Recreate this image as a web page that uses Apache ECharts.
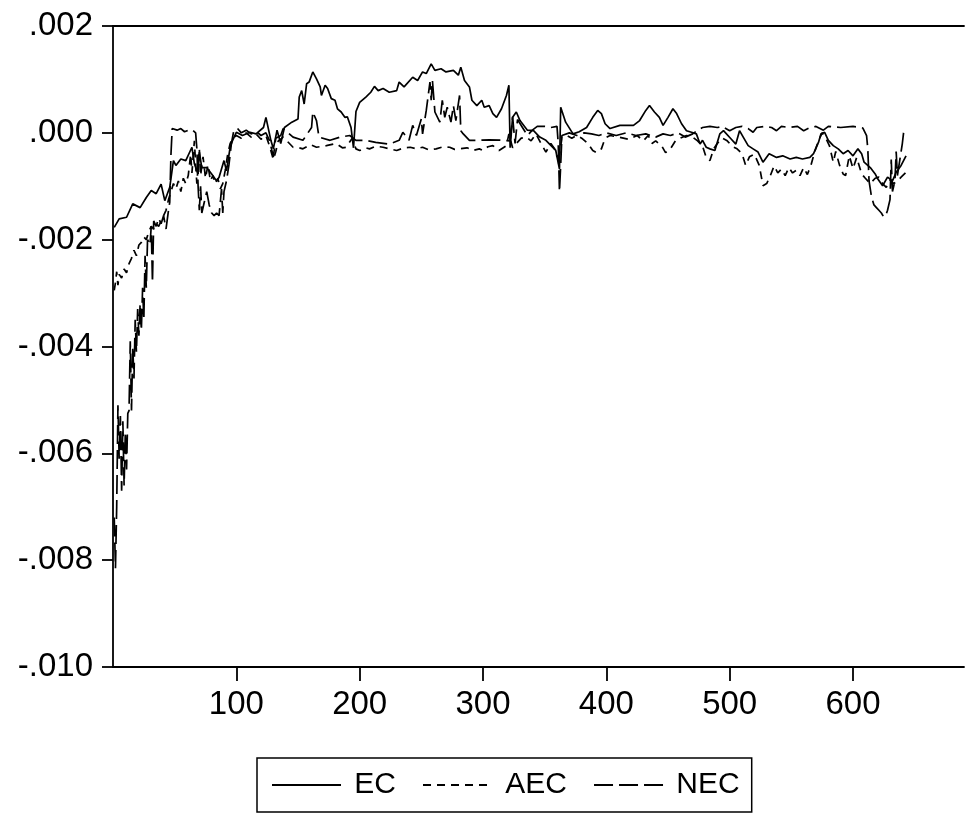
<!DOCTYPE html>
<html>
<head>
<meta charset="utf-8">
<script src="https://cdn.jsdelivr.net/npm/echarts@6/dist/echarts.min.js"></script>
<style>
html,body{margin:0;padding:0;background:#fff;}
#chart{width:965px;height:817px;}
</style>
</head>
<body>
<div id="chart"></div>
<script>
// ---- data (observation index, value) ----
var ecX = [1,5,11,16,22,27,31,35,39,42,46,49,51,55,59,64,66,69,70,72,76,80,84,86,90,92,95,97,100,105,111,116,122,124,128,130,133,136,139,145,150,151,153,155,157,159,162,165,168,169,172,174,177,180,182,185,188,190,193,195,197,200,205,209,212,215,219,224,230,232,236,243,247,251,254,258,261,266,270,276,280,282,285,289,291,295,299,301,305,308,311,315,319,321,322,324,327,330,336,341,346,351,354,359,362,363,367,373,378,384,389,393,396,399,403,411,422,427,432,435,439,443,446,450,454,457,461,465,469,473,476,478,481,484,488,492,495,501,505,508,511,515,519,523,527,532,538,543,549,554,559,565,568,572,574,577,580,584,588,592,596,600,604,607,609,614,618,620,624,628,632,635,639,643];
var ecY = [-1.77e-3,-1.61e-3,-1.58e-3,-1.33e-3,-1.40e-3,-1.21e-3,-1.08e-3,-1.14e-3,-0.96e-3,-1.27e-3,-1.02e-3,-0.52e-3,-0.61e-3,-0.49e-3,-0.52e-3,-0.27e-3,-0.58e-3,-0.77e-3,-0.36e-3,-0.65e-3,-0.65e-3,-0.77e-3,-0.90e-3,-0.83e-3,-0.52e-3,-0.71e-3,-0.27e-3,-0.14e-3,0.01e-3,-0.05e-3,0.01e-3,-0.02e-3,0.10e-3,0.29e-3,-0.14e-3,-0.30e-3,0.05e-3,-0.20e-3,0.10e-3,0.20e-3,0.26e-3,0.67e-3,0.79e-3,0.54e-3,0.92e-3,0.95e-3,1.14e-3,1.01e-3,0.86e-3,0.70e-3,0.89e-3,0.83e-3,0.64e-3,0.61e-3,0.45e-3,0.39e-3,0.29e-3,0.30e-3,0.10e-3,-0.28e-3,0.40e-3,0.57e-3,0.67e-3,0.76e-3,0.87e-3,0.79e-3,0.83e-3,0.76e-3,0.79e-3,0.95e-3,0.86e-3,1.04e-3,0.98e-3,1.14e-3,1.11e-3,1.29e-3,1.17e-3,1.20e-3,1.14e-3,1.17e-3,1.08e-3,1.23e-3,0.98e-3,0.86e-3,0.61e-3,0.51e-3,0.61e-3,0.48e-3,0.51e-3,0.36e-3,0.29e-3,0.45e-3,0.70e-3,0.89e-3,-0.28e-3,0.29e-3,0.39e-3,0.23e-3,0.05e-3,0.04e-3,-0.08e-3,-0.14e-3,-0.21e-3,-0.33e-3,-0.68e-3,0.48e-3,0.20e-3,-0.02e-3,0.02e-3,0.10e-3,0.29e-3,0.42e-3,0.36e-3,0.17e-3,0.08e-3,0.14e-3,0.14e-3,0.23e-3,0.42e-3,0.51e-3,0.39e-3,0.29e-3,0.14e-3,0.29e-3,0.45e-3,0.36e-3,0.17e-3,0.04e-3,0.01e-3,-0.02e-3,-0.21e-3,-0.14e-3,-0.27e-3,-0.30e-3,-0.33e-3,-0.02e-3,0.04e-3,-0.11e-3,-0.21e-3,0.04e-3,-0.08e-3,-0.24e-3,-0.30e-3,-0.36e-3,-0.55e-3,-0.39e-3,-0.46e-3,-0.43e-3,-0.49e-3,-0.46e-3,-0.49e-3,-0.46e-3,-0.39e-3,-0.18e-3,-0.02e-3,0.01e-3,-0.14e-3,-0.24e-3,-0.30e-3,-0.39e-3,-0.33e-3,-0.43e-3,-0.30e-3,-0.39e-3,-0.55e-3,-0.65e-3,-0.77e-3,-0.86e-3,-0.99e-3,-0.83e-3,-0.90e-3,-0.74e-3,-0.61e-3,-0.43e-3];

var aecX = [1,2,3,4,5,7,9,11,13,15,17,19,21,23,25,27,29,31,33,35,37,39,41,43,45,47,49,51,53,55,57,59,61,63,64,66,67,68,70,71,73,75,77,79,81,83,85,87,89,91,93,95,97,100,104,108,112,116,120,124,127,130,132,134,138,146,151,154,160,165,173,181,186,189,194,197,200,205,208,213,219,224,230,236,241,246,251,256,262,268,273,277,281,287,292,297,300,304,308,313,319,321,324,327,331,335,339,343,347,351,355,358,360,362,364,368,372,376,380,385,389,392,396,399,403,410,418,425,430,434,437,440,445,448,452,456,460,465,470,474,478,481,484,487,490,494,498,502,506,510,513,516,520,524,527,530,533,536,539,542,545,548,551,554,557,560,563,566,569,572,575,578,581,584,586,589,592,594,597,600,603,607,610,614,618,621,624,627,630,633,636,639,643];
var aecY = [-2.95e-3,-2.80e-3,-2.60e-3,-2.85e-3,-2.65e-3,-2.72e-3,-2.55e-3,-2.62e-3,-2.45e-3,-2.35e-3,-2.20e-3,-2.30e-3,-2.10e-3,-2.05e-3,-1.95e-3,-2.00e-3,-1.85e-3,-1.75e-3,-1.80e-3,-1.70e-3,-1.75e-3,-1.65e-3,-1.55e-3,-1.45e-3,-1.25e-3,-1.10e-3,-0.95e-3,-1.05e-3,-0.90e-3,-1.10e-3,-0.85e-3,-0.95e-3,-0.80e-3,-0.40e-3,-0.75e-3,-0.15e-3,-0.60e-3,-0.95e-3,-0.30e-3,-0.80e-3,-0.45e-3,-0.85e-3,-0.60e-3,-0.90e-3,-0.80e-3,-0.95e-3,-0.85e-3,-1.05e-3,-0.95e-3,-0.70e-3,-0.40e-3,-0.20e-3,-0.10e-3,-0.05e-3,-0.10e-3,0.00e-3,-0.08e-3,-0.02e-3,-0.12e-3,-0.05e-3,-0.25e-3,-0.50e-3,-0.35e-3,-0.15e-3,-0.08e-3,-0.27e-3,-0.28e-3,-0.30e-3,-0.22e-3,-0.27e-3,-0.24e-3,-0.20e-3,-0.28e-3,-0.27e-3,-0.10e-3,-0.30e-3,-0.33e-3,-0.28e-3,-0.30e-3,-0.25e-3,-0.27e-3,-0.30e-3,-0.33e-3,-0.28e-3,-0.27e-3,-0.30e-3,-0.27e-3,-0.32e-3,-0.30e-3,-0.26e-3,-0.27e-3,-0.31e-3,-0.30e-3,-0.28e-3,-0.33e-3,-0.30e-3,-0.33e-3,-0.26e-3,-0.24e-3,-0.33e-3,-0.24e-3,-0.02e-3,-0.28e-3,-0.20e-3,-0.10e-3,-0.08e-3,-0.15e-3,-0.02e-3,-0.20e-3,-0.36e-3,-0.20e-3,-0.30e-3,-0.45e-3,-0.40e-3,-0.10e-3,-0.05e-3,-0.10e-3,-0.05e-3,-0.10e-3,-0.20e-3,-0.33e-3,-0.37e-3,-0.30e-3,-0.10e-3,-0.05e-3,-0.08e-3,-0.12e-3,-0.05e-3,-0.15e-3,-0.05e-3,-0.20e-3,-0.15e-3,-0.25e-3,-0.37e-3,-0.30e-3,-0.15e-3,-0.10e-3,-0.05e-3,-0.08e-3,-0.15e-3,-0.25e-3,-0.46e-3,-0.52e-3,-0.30e-3,-0.20e-3,-0.10e-3,-0.15e-3,-0.25e-3,-0.30e-3,-0.39e-3,-0.61e-3,-0.45e-3,-0.40e-3,-0.61e-3,-0.99e-3,-0.95e-3,-0.80e-3,-0.62e-3,-0.75e-3,-0.68e-3,-0.80e-3,-0.65e-3,-0.75e-3,-0.70e-3,-0.80e-3,-0.65e-3,-0.78e-3,-0.60e-3,-0.35e-3,-0.15e-3,0.00e-3,-0.10e-3,-0.25e-3,-0.55e-3,-0.35e-3,-0.60e-3,-0.77e-3,-0.80e-3,-0.43e-3,-0.67e-3,-0.46e-3,-0.77e-3,-0.85e-3,-0.95e-3,-0.85e-3,-0.83e-3,-0.95e-3,-1.02e-3,-0.88e-3,-0.95e-3,-0.90e-3,-0.83e-3,-0.74e-3];

var necX = [1,2,3,4,5,6,7,8,9,10,11,12,13,14,15,16,17,18,19,20,21,22,23,24,25,26,27,28,30,31,32,33,35,37,39,41,43,45,46,47,48,52,55,58,61,64,67,68,69,70,71,72,74,76,78,80,82,84,86,88,89,90,92,94,96,98,101,104,108,112,116,120,124,127,130,132,136,138,146,154,161,162,165,167,176,184,192,197,205,213,224,232,235,240,243,246,250,251,254,257,258,259,261,265,267,269,271,274,276,278,281,282,284,289,297,305,316,322,324,326,328,332,336,340,344,350,355,360,361,362,363,364,370,376,382,388,394,400,408,416,424,432,440,446,452,458,464,470,474,478,484,490,494,500,505,510,515,519,522,528,534,538,542,548,555,560,565,570,576,580,590,600,608,611,612,613,615,617,619,621,623,625,627,628,630,631,632,634,635,636,638,640,641,643];
var necY = [-7.20e-3,-8.15e-3,-7.00e-3,-5.10e-3,-6.10e-3,-5.30e-3,-6.70e-3,-5.40e-3,-6.60e-3,-5.60e-3,-6.30e-3,-5.25e-3,-5.20e-3,-3.90e-3,-5.20e-3,-4.00e-3,-4.60e-3,-3.50e-3,-4.10e-3,-3.30e-3,-3.80e-3,-3.20e-3,-3.70e-3,-2.90e-3,-3.50e-3,-2.30e-3,-2.90e-3,-2.00e-3,-2.10e-3,-1.75e-3,-2.80e-3,-1.65e-3,-1.75e-3,-1.60e-3,-1.70e-3,-1.55e-3,-1.80e-3,-1.45e-3,-1.30e-3,-0.40e-3,0.08e-3,0.05e-3,0.08e-3,0.02e-3,0.05e-3,0.06e-3,0.00e-3,-0.30e-3,-1.00e-3,-1.45e-3,-1.00e-3,-1.50e-3,-1.30e-3,-1.10e-3,-1.35e-3,-1.50e-3,-1.55e-3,-1.50e-3,-1.55e-3,-1.05e-3,-1.50e-3,-1.10e-3,-0.90e-3,-0.60e-3,-0.20e-3,0.05e-3,0.08e-3,0.00e-3,0.05e-3,-0.02e-3,0.03e-3,-0.05e-3,0.00e-3,-0.15e-3,-0.45e-3,-0.10e-3,-0.05e-3,0.08e-3,-0.08e-3,-0.14e-3,0.10e-3,0.39e-3,0.23e-3,-0.08e-3,-0.14e-3,-0.08e-3,-0.05e-3,-0.14e-3,-0.14e-3,-0.18e-3,-0.21e-3,-0.14e-3,0.01e-3,-0.14e-3,0.14e-3,-0.05e-3,0.26e-3,-0.02e-3,0.42e-3,0.95e-3,0.61e-3,0.98e-3,0.39e-3,0.20e-3,0.61e-3,0.29e-3,0.48e-3,0.20e-3,0.51e-3,0.23e-3,0.70e-3,0.04e-3,-0.02e-3,-0.14e-3,-0.14e-3,-0.13e-3,-0.14e-3,-0.15e-3,0.30e-3,-0.20e-3,0.25e-3,0.10e-3,-0.05e-3,0.05e-3,0.12e-3,0.12e-3,0.10e-3,0.12e-3,-0.20e-3,-1.10e-3,-0.60e-3,-0.05e-3,0.00e-3,-0.05e-3,0.00e-3,-0.02e-3,-0.05e-3,0.00e-3,-0.05e-3,0.00e-3,-0.05e-3,-0.02e-3,-0.08e-3,-0.02e-3,-0.05e-3,0.00e-3,-0.08e-3,-0.02e-3,0.05e-3,0.10e-3,0.12e-3,0.10e-3,0.12e-3,0.04e-3,0.10e-3,0.12e-3,0.08e-3,0.01e-3,0.10e-3,0.12e-3,0.10e-3,0.04e-3,0.12e-3,0.10e-3,0.12e-3,0.04e-3,0.10e-3,0.12e-3,0.05e-3,0.12e-3,0.10e-3,0.12e-3,0.09e-3,-0.05e-3,-0.30e-3,-0.90e-3,-1.20e-3,-1.35e-3,-1.40e-3,-1.45e-3,-1.50e-3,-1.58e-3,-1.52e-3,-1.45e-3,-1.25e-3,-0.50e-3,-1.10e-3,-0.90e-3,-0.35e-3,-0.80e-3,-0.50e-3,-0.20e-3,0.00e-3,0.10e-3];

var seriesNames = ['EC', 'AEC', 'NEC'];
var xTickValues = [100, 200, 300, 400, 500, 600];
var yTickValues = [-0.010, -0.008, -0.006, -0.004, -0.002, 0.000, 0.002];

function pairs(xs, ys) { return xs.map(function (x, i) { return [x, ys[i]]; }); }
function fmtY(v) {
  var s = Number(v).toFixed(3);
  return s.replace(/^(-?)0\./, '$1.');
}

var FONT = '"Liberation Sans", Arial, Helvetica, sans-serif';
var chart = echarts.init(document.getElementById('chart'), null, {renderer: 'canvas'});
var lineBase = {type: 'line', showSymbol: false, symbol: 'none', animation: false, clip: true};
var AX = {color: '#000', width: 1.8};
chart.setOption({
  animation: false,
  backgroundColor: '#ffffff',
  grid: {left: 113, right: 1, top: 26, bottom: 150, containLabel: false},
  xAxis: [{
    type: 'value', min: 0, max: 690, interval: 100,
    axisLine: {show: true, onZero: false, lineStyle: AX},
    axisTick: {show: true, inside: false, length: 14, customValues: xTickValues, lineStyle: AX},
    axisLabel: {show: true, customValues: xTickValues, margin: 21, color: '#000', fontSize: 33, fontFamily: FONT},
    splitLine: {show: false}
  }, {
    type: 'value', position: 'top', min: 0, max: 690,
    axisLine: {show: true, onZero: false, lineStyle: AX},
    axisTick: {show: false}, axisLabel: {show: false}, splitLine: {show: false}
  }],
  yAxis: {
    type: 'value', min: -0.010, max: 0.002, interval: 0.002,
    axisLine: {show: true, onZero: false, lineStyle: AX},
    axisTick: {show: true, length: 11, customValues: yTickValues, lineStyle: AX},
    axisLabel: {show: true, customValues: yTickValues, margin: 20, color: '#000', fontSize: 33, fontFamily: FONT, formatter: fmtY},
    splitLine: {show: false}
  },
  legend: {
    data: seriesNames,
    left: 257, top: 758,
    orient: 'horizontal',
    borderColor: '#000', borderWidth: 1.5, borderRadius: 0,
    padding: [12, 12, 12, 14],
    itemWidth: 69, itemHeight: 14, itemGap: 26,
    itemStyle: {opacity: 0, color: 'transparent', borderWidth: 0},
    textStyle: {color: '#000', fontSize: 30, fontFamily: FONT},
    formatter: function (n) { return ' ' + n; }
  },
  series: [
    Object.assign({}, lineBase, {name: seriesNames[0], data: pairs(ecX, ecY),
      lineStyle: {color: '#000', width: 1.7, type: 'solid'}, itemStyle: {color: '#000'}}),
    Object.assign({}, lineBase, {name: seriesNames[1], data: pairs(aecX, aecY),
      lineStyle: {color: '#000', width: 1.7, type: [8, 6]}, itemStyle: {color: '#000'}}),
    Object.assign({}, lineBase, {name: seriesNames[2], data: pairs(necX, necY),
      lineStyle: {color: '#000', width: 1.7, type: [19, 6]}, itemStyle: {color: '#000'}})
  ]
});
</script>
</body>
</html>
